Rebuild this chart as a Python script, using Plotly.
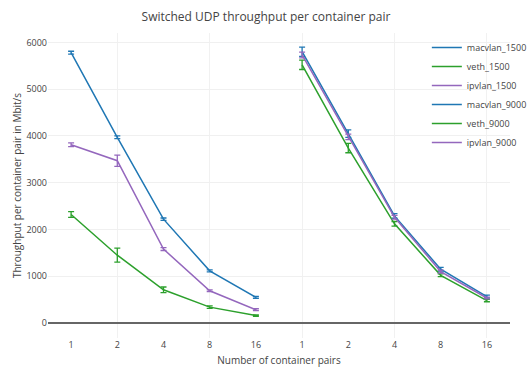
import plotly.graph_objects as go

categories = ["1", "2", "4", "8", "16"]

macvlan_1500 = [5780, 3970, 2220, 1115, 550]
veth_1500 = [2320, 1450, 710, 340, 160]
ipvlan_1500 = [3810, 3470, 1580, 690, 285]
macvlan_9000 = [5800, 4050, 2290, 1150, 565]
veth_9000 = [5520, 3740, 2120, 1020, 480]
ipvlan_9000 = [5730, 3980, 2260, 1100, 535]

macvlan_1500_err = [30, 30, 25, 20, 20]
veth_1500_err = [60, 150, 60, 25, 15]
ipvlan_1500_err = [40, 120, 30, 20, 20]
macvlan_9000_err = [100, 80, 50, 40, 30]
veth_9000_err = [100, 100, 50, 30, 25]
ipvlan_9000_err = [60, 60, 40, 30, 20]

BLUE = "#1f77b4"
GREEN = "#2ca02c"
PURPLE = "#9467bd"

n = len(categories)
x1500 = list(range(n))
x9000 = list(range(n, 2 * n))

series = [
    ("macvlan_1500", x1500, macvlan_1500, macvlan_1500_err, BLUE),
    ("veth_1500", x1500, veth_1500, veth_1500_err, GREEN),
    ("ipvlan_1500", x1500, ipvlan_1500, ipvlan_1500_err, PURPLE),
    ("macvlan_9000", x9000, macvlan_9000, macvlan_9000_err, BLUE),
    ("veth_9000", x9000, veth_9000, veth_9000_err, GREEN),
    ("ipvlan_9000", x9000, ipvlan_9000, ipvlan_9000_err, PURPLE),
]

fig = go.Figure()
for name, xs, ys, es, col in series:
    fig.add_trace(go.Scatter(
        x=xs, y=ys, name=name, mode="lines",
        line=dict(color=col, width=1.5),
        error_y=dict(type="data", array=es, visible=True, color=col,
                     thickness=1.3, width=3),
    ))

fig.update_layout(
    width=532, height=369,
    margin=dict(l=48, r=0, t=33, b=31),
    paper_bgcolor="white", plot_bgcolor="white",
    font=dict(family="Open Sans", color="#444", size=9),
    title=dict(text="Switched UDP throughput per container pair",
               x=0.5, xanchor="center", y=0.955, yanchor="middle",
               font=dict(size=12, color="#444")),
    legend=dict(x=0.82, xanchor="left", y=1.0, yanchor="top",
                font=dict(size=9, color="#444"), bgcolor="rgba(255,255,255,0)"),
    showlegend=True,
)
fig.update_xaxes(
    range=[-0.5, 2 * n - 0.5],
    tickmode="array", tickvals=list(range(2 * n)), ticktext=categories * 2,
    showgrid=False, zeroline=False, showline=False,
    tickfont=dict(size=9),
    title=dict(text="Number of container pairs", font=dict(size=10), standoff=6),
    minor=dict(tickmode="array", tickvals=list(range(1, 2 * n, 2)),
               showgrid=True, gridcolor="#f1f1f1", ticks=""),
)
fig.update_yaxes(
    range=[-320, 6200], dtick=1000, tick0=0,
    showgrid=True, gridcolor="#f0f0f0", gridwidth=1,
    zeroline=True, zerolinecolor="#666", zerolinewidth=1.5,
    showline=False, tickfont=dict(size=9),
    title=dict(text="Throughput per container pair in Mbit/s", font=dict(size=10), standoff=2),
)

fig.write_html("out.html")
